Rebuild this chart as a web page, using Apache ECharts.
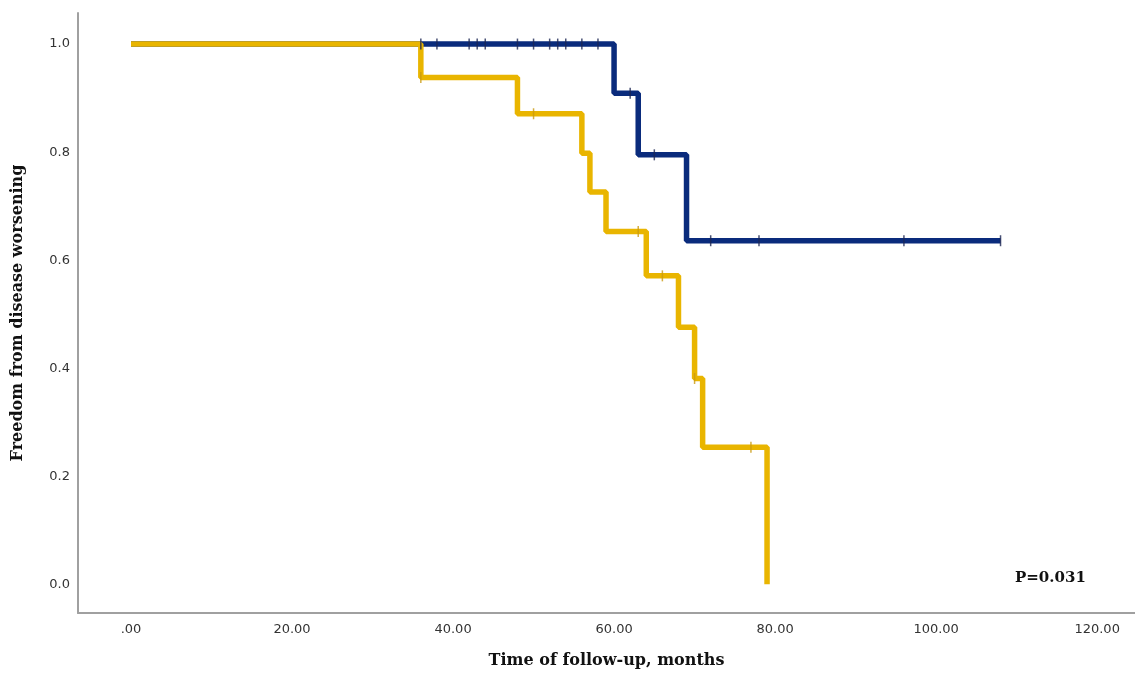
<!DOCTYPE html>
<html>
<head>
<meta charset="utf-8">
<script src="https://cdn.jsdelivr.net/npm/echarts@6/dist/echarts.min.js"></script>
<style>
html,body{margin:0;padding:0;background:#fff;}
#c{width:1135px;height:678px;}
</style>
</head>
<body>
<div id="c"></div>
<script>
// Kaplan-Meier step data
var yellowTimes = [0, 36, 48, 56, 57, 59, 64, 68, 70, 71, 79];
var yellowSurv  = [1.0, 0.938, 0.871, 0.798, 0.726, 0.653, 0.571, 0.476, 0.381, 0.254, 0.0];
var yellowCensorTimes = [36, 50, 63, 66, 70, 77];
var yellowCensorSurv  = [0.938, 0.871, 0.653, 0.571, 0.381, 0.254];

var blueTimes = [0, 60, 63, 69, 108];
var blueSurv  = [1.0, 0.909, 0.795, 0.636, 0.636];
var blueCensorTimes = [36, 38, 42, 43, 44, 48, 50, 52, 53, 54, 56, 58, 62, 65, 72, 78, 96, 108];
var blueCensorSurv  = [1, 1, 1, 1, 1, 1, 1, 1, 1, 1, 1, 1, 0.909, 0.795, 0.636, 0.636, 0.636, 0.636];

var xTicks = [0, 20, 40, 60, 80, 100, 120];
var yTicks = [0, 0.2, 0.4, 0.6, 0.8, 1.0];
var pText = 'P=0.031';

function zip(a, b) { return a.map(function (v, i) { return [v, b[i]]; }); }

var chart = echarts.init(document.getElementById('c'), null, {renderer: 'canvas'});
chart.setOption({
  animation: false,
  backgroundColor: '#ffffff',
  grid: {left: 78, right: 0, top: 13, bottom: 65},
  xAxis: {
    type: 'value',
    min: -6.58, max: 124.7,
    name: 'Time of follow-up, months',
    nameLocation: 'middle',
    nameGap: 40,
    nameTextStyle: {fontFamily: 'DejaVu Serif', fontWeight: 'bold', fontSize: 16, color: '#111'},
    axisLine: {show: true, onZero: false, lineStyle: {color: '#a0a0a0', width: 2}},
    axisTick: {show: false},
    splitLine: {show: false},
    axisLabel: {
      customValues: xTicks,
      margin: 10,
      fontFamily: 'DejaVu Sans', fontSize: 13, color: '#333',
      formatter: function (v) { return v === 0 ? '.00' : v.toFixed(2); }
    }
  },
  yAxis: {
    type: 'value',
    min: -0.053, max: 1.0575,
    name: 'Freedom from disease worsening',
    nameLocation: 'middle',
    nameGap: 52,
    nameTextStyle: {fontFamily: 'DejaVu Serif', fontWeight: 'bold', fontSize: 16, color: '#111'},
    axisLine: {show: true, onZero: false, lineStyle: {color: '#a0a0a0', width: 2}},
    axisTick: {show: false},
    splitLine: {show: false},
    axisLabel: {
      customValues: yTicks,
      margin: 8,
      fontFamily: 'DejaVu Sans', fontSize: 13, color: '#333',
      formatter: function (v) { return v.toFixed(1); }
    }
  },
  series: [
    {
      type: 'line', step: 'end', data: zip(blueTimes, blueSurv),
      showSymbol: false, z: 2,
      lineStyle: {color: '#0a2b7c', width: 5.5}
    },
    {
      type: 'scatter', data: zip(blueCensorTimes, blueCensorSurv),
      symbol: 'rect', symbolSize: [1.5, 11], z: 4,
      itemStyle: {color: '#1c2553'}
    },
    {
      type: 'line', step: 'end', data: zip(yellowTimes, yellowSurv),
      showSymbol: false, z: 3,
      lineStyle: {color: '#e9b500', width: 5.5}
    },
    {
      type: 'scatter', data: zip(yellowCensorTimes, yellowCensorSurv),
      symbol: 'rect', symbolSize: [1.5, 11], z: 5,
      itemStyle: {color: '#c99a10'}
    }
  ],
  graphic: [{
    type: 'text', left: 1015, top: 571,
    style: {text: pText, fontFamily: 'DejaVu Serif', fontWeight: 'bold', fontSize: 15, fill: '#111'}
  }]
});
</script>
</body>
</html>
